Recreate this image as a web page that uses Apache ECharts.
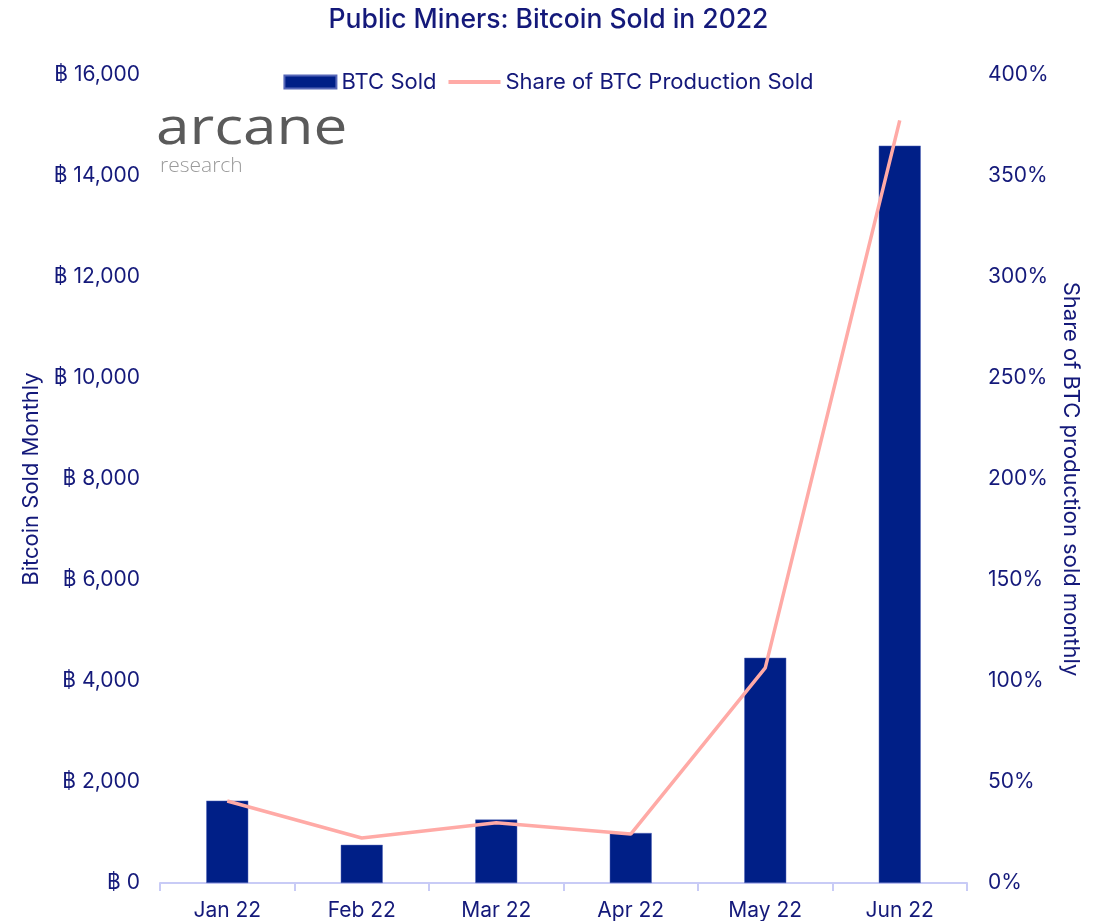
<!DOCTYPE html>
<html>
<head>
<meta charset="utf-8">
<script src="https://cdn.jsdelivr.net/npm/echarts@6/dist/echarts.min.js"></script>
<style>html,body{margin:0;padding:0;background:#fff;}#c{width:1097px;height:921px;}</style>
</head>
<body>
<div id="c"></div>
<script>
const categories = ['Jan 22','Feb 22','Mar 22','Apr 22','May 22','Jun 22'];
const btcSold = [1630, 755, 1255, 990, 4460, 14600];
const shareSold = [40.6, 22.3, 29.8, 24.2, 106.5, 377.5];
const leftTicks = [0, 16000, 2000];
const rightTicks = [0, 400, 50];

const txt = '#14197a';
const font = 'Inter, "Liberation Sans", sans-serif';
const chart = echarts.init(document.getElementById('c'));
chart.setOption({
  animation: false,
  backgroundColor: '#fff',
  title: {
    text: 'Public Miners: Bitcoin Sold in 2022',
    left: 'center', top: 2,
    textStyle: {color: txt, fontSize: 26.5, fontWeight: 500, fontFamily: font}
  },
  legend: {
    top: 66, left: 'center',
    itemGap: 12,
    textStyle: {color: txt, fontSize: 22, fontFamily: font},
    data: [
      {name: 'BTC Sold', icon: 'rect', itemStyle: {color: '#001f87'}},
      {name: 'Share of BTC Production Sold', icon: 'path://M0,5 L40,5 L40,8 L0,8 Z'}
    ],
    itemWidth: 52, itemHeight: 13
  },
  graphic: [
    {type: 'text', left: 156, top: 103, scaleX: 1.16, style: {text: 'arcane', fill: '#5a5a5a', font: '400 52px "Open Sans", sans-serif'}},
    {type: 'text', left: 160, top: 156, style: {text: 'research', fill: '#9a9a9a', font: '300 21px "Open Sans", sans-serif'}}
  ],
  grid: {left: 160, right: 130, top: 75, bottom: 38, containLabel: false},
  xAxis: {
    type: 'category', data: categories,
    axisLine: {lineStyle: {color: '#c8cbf6', width: 2}},
    axisTick: {show: true, length: 8, lineStyle: {color: '#c8cbf6', width: 2}},
    axisLabel: {color: txt, fontSize: 21, fontFamily: font, margin: 17}
  },
  yAxis: [
    {
      type: 'value', min: leftTicks[0], max: leftTicks[1], interval: leftTicks[2],
      name: 'Bitcoin Sold Monthly', nameLocation: 'middle', nameGap: 117, nameRotate: 90,
      nameTextStyle: {color: txt, fontSize: 22, fontFamily: font},
      axisLine: {show: false}, axisTick: {show: false}, splitLine: {show: false},
      axisLabel: {color: txt, fontSize: 21, fontFamily: font, margin: 20,
        formatter: v => '฿ ' + v.toLocaleString('en-US')}
    },
    {
      type: 'value', min: rightTicks[0], max: rightTicks[1], interval: rightTicks[2],
      name: 'Share of BTC production sold monthly', nameLocation: 'middle', nameGap: 90, nameRotate: -90,
      nameTextStyle: {color: txt, fontSize: 22, fontFamily: font},
      axisLine: {show: false}, axisTick: {show: false}, splitLine: {show: false},
      axisLabel: {color: txt, fontSize: 21, fontFamily: font, margin: 21,
        formatter: v => v + '%'}
    }
  ],
  series: [
    {
      name: 'BTC Sold', type: 'bar', data: btcSold, barWidth: 42,
      itemStyle: {color: '#001f87', borderColor: '#5566b8', borderWidth: 0.5}
    },
    {
      name: 'Share of BTC Production Sold', type: 'line', yAxisIndex: 1, data: shareSold,
      showSymbol: false, symbol: 'none',
      lineStyle: {color: '#ffaaa6', width: 3.5}, itemStyle: {color: '#ffaaa6'}
    }
  ]
});
</script>
</body>
</html>
